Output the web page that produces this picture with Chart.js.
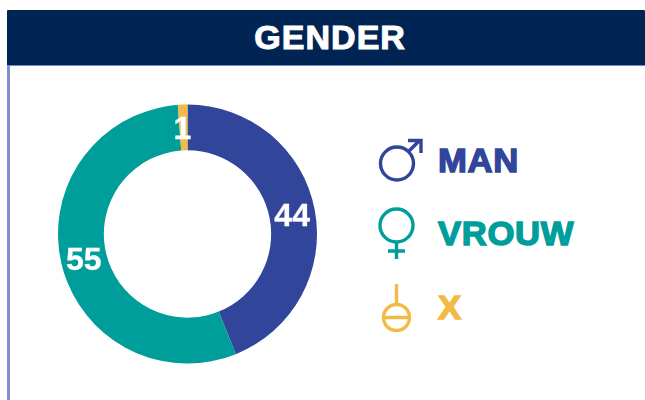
<!DOCTYPE html>
<html><head><meta charset="utf-8">
<script src="https://cdn.jsdelivr.net/npm/chart.js@4"></script>
<style>
html,body{margin:0;padding:0;background:#fff;overflow:hidden;width:645px;height:400px;font-family:"Liberation Sans",Arial,sans-serif}
#head{position:absolute;left:7px;top:10px;width:638px;height:56px;background:#002554;border-bottom:1px solid #7287c4;box-sizing:border-box;border-radius:1px}
#title{position:absolute;left:0;top:0;width:100%;padding-left:8px;box-sizing:border-box;color:#fff;font-weight:bold;font-size:33px;line-height:55px;text-align:center;letter-spacing:1px;-webkit-text-stroke:1px #fff;transform:scaleX(1.03)}
#bar{position:absolute;left:7px;top:66px;width:3px;height:334px;background:#7c8fd0}
#wrap{position:absolute;left:55px;top:101px;width:265px;height:266px}
.lab{position:absolute;font-weight:bold;font-size:33px;line-height:36px;white-space:nowrap;letter-spacing:.6px;-webkit-text-stroke:1.4px currentColor;transform:scaleX(1.05);transform-origin:left center}
svg{position:absolute;left:370px;top:130px}
</style></head><body>
<div id="head"><div id="title"></div></div><div id="bar"></div>
<div id="wrap"><canvas id="c"></canvas></div>
<svg width="70" height="210" viewBox="370 130 70 210" fill="none" stroke-width="3.4">
<g stroke="#31459b"><circle cx="397" cy="163.500" r="16.500"/><path d="M409 151L420 140M408 140.500H421V153"/></g>
<g stroke="#009e9b"><circle cx="396.500" cy="225.500" r="16.500"/><path d="M396.500 242V259M388 251H405"/></g>
<g stroke="#f2bb45"><circle cx="396.500" cy="317.500" r="13"/><path d="M396.500 284V304M384 317.500H410"/></g>
</svg>
<div id="legend"></div>
<script>
const title = "GENDER";
const categories = ["MAN", "VROUW", "X"];
const values = [44, 55, 1.2];
const colors = ["#31459b", "#009e9b", "#f2bb45"];
const legendTops = [143, 216, 290];
const legendLefts = [438, 438, 438];

document.getElementById("title").textContent = title;
categories.forEach((t, i) => {
  const d = document.createElement("div");
  d.className = "lab"; d.textContent = t;
  d.style.left = legendLefts[i] + "px"; d.style.top = legendTops[i] + "px"; d.style.color = colors[i];
  document.getElementById("legend").appendChild(d);
});
const valueLabels = {
  id: "valueLabels",
  afterDatasetsDraw(chart) {
    const { ctx } = chart;
    chart.getDatasetMeta(0).data.forEach((arc, i) => {
      const p = arc.tooltipPosition();
      ctx.save();
      ctx.font = "bold 32px 'Liberation Sans', Arial, sans-serif";
      ctx.fillStyle = "#fff"; ctx.strokeStyle = "#fff"; ctx.lineWidth = 0.3;
      ctx.textAlign = "center"; ctx.textBaseline = "middle";
      const s = String(Math.round(values[i]));
      ctx.fillText(s, p.x - (i === 2 ? 1 : 0), p.y + 3);
      ctx.strokeText(s, p.x - (i === 2 ? 1 : 0), p.y + 3);
      ctx.restore();
    });
  }
};
new Chart(document.getElementById("c"), {
  type: "doughnut",
  data: { labels: categories, datasets: [{ data: values, backgroundColor: colors, borderWidth: 0 }] },
  options: {
    responsive: true, maintainAspectRatio: false, animation: false, cutout: "64.6%",
    layout: { padding: 3 },
    plugins: { legend: { display: false }, tooltip: { enabled: false } }
  },
  plugins: [valueLabels]
});
</script></body></html>
